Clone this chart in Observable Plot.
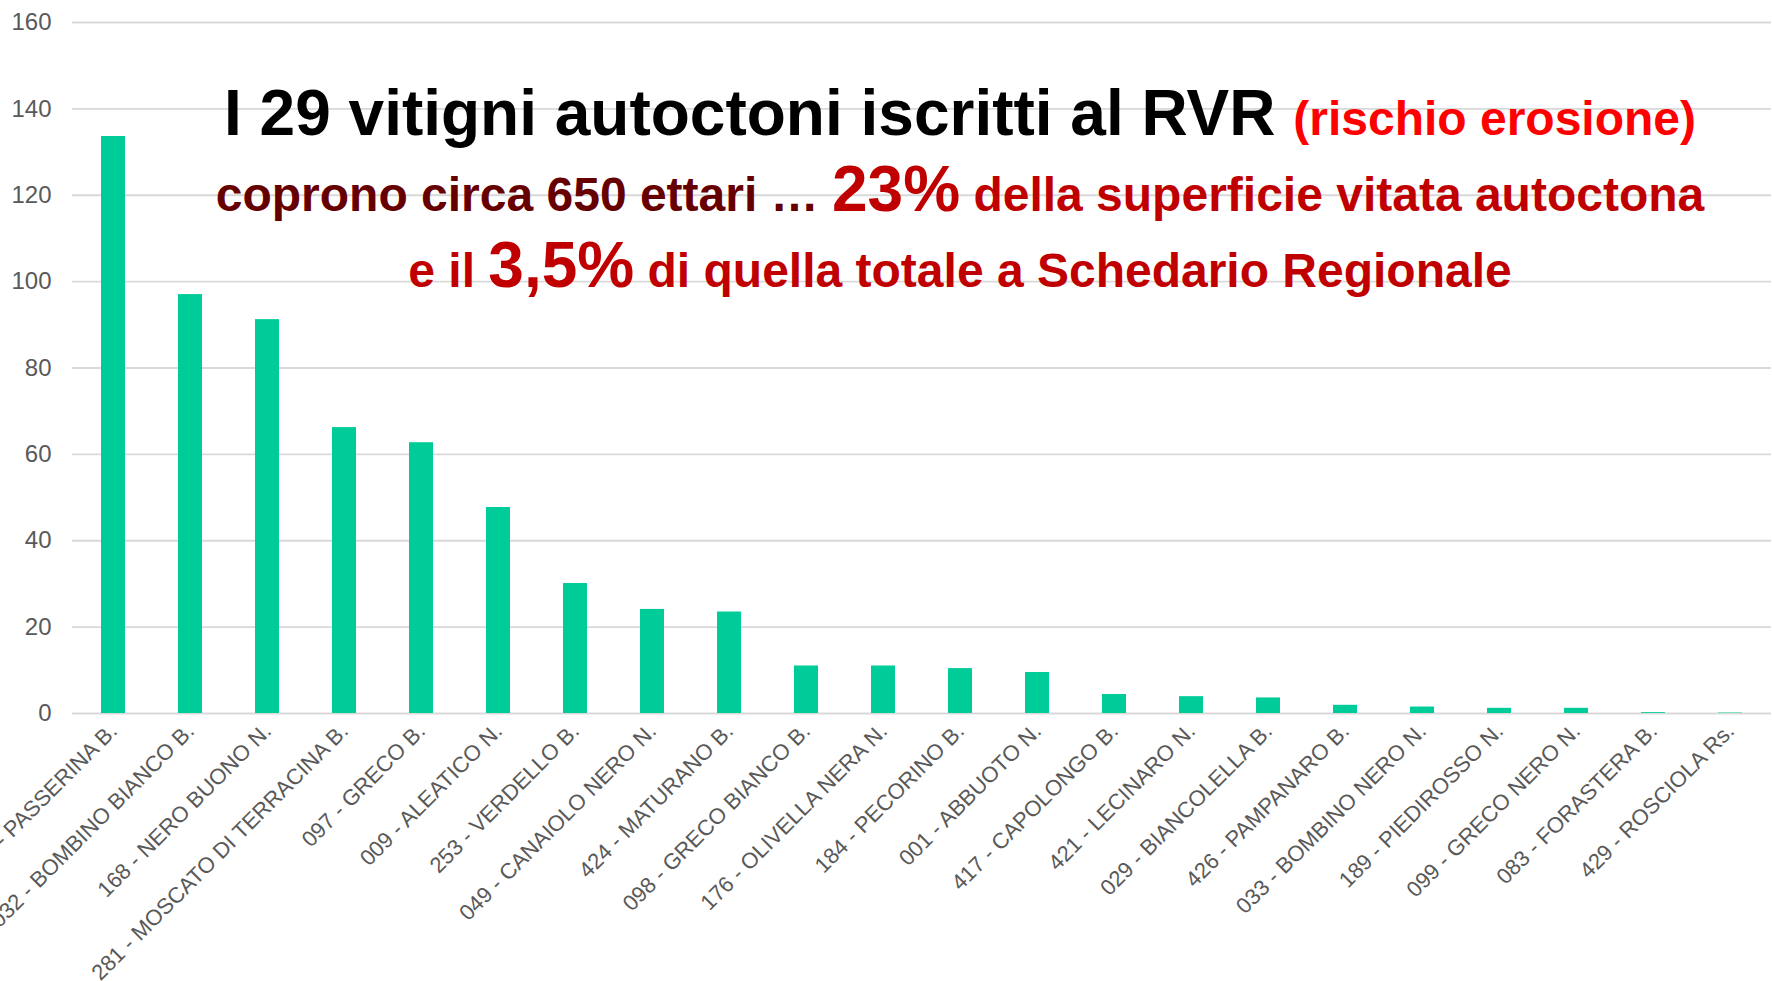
<!DOCTYPE html>
<html>
<head>
<meta charset="utf-8">
<script src="https://cdn.jsdelivr.net/npm/d3@7"></script>
<script src="https://cdn.jsdelivr.net/npm/@observablehq/plot@0.6"></script>
<style>
  html, body { margin: 0; padding: 0; background: #fff; overflow: hidden; }
  #chart { position: relative; width: 1772px; height: 981px; }
</style>
</head>
<body>
<div id="chart"></div>
<script>
const varieties = [
  "183 - PASSERINA B.",
  "032 - BOMBINO BIANCO B.",
  "168 - NERO BUONO N.",
  "281 - MOSCATO DI TERRACINA B.",
  "097 - GRECO B.",
  "009 - ALEATICO N.",
  "253 - VERDELLO B.",
  "049 - CANAIOLO NERO N.",
  "424 - MATURANO B.",
  "098 - GRECO BIANCO B.",
  "176 - OLIVELLA NERA N.",
  "184 - PECORINO B.",
  "001 - ABBUOTO N.",
  "417 - CAPOLONGO B.",
  "421 - LECINARO N.",
  "029 - BIANCOLELLA B.",
  "426 - PAMPANARO B.",
  "033 - BOMBINO NERO N.",
  "189 - PIEDIROSSO N.",
  "099 - GRECO NERO N.",
  "083 - FORASTERA B.",
  "429 - ROSCIOLA Rs."
];
const hectares = [133.6, 97.0, 91.2, 66.2, 62.7, 47.7, 30.1, 24.1, 23.5, 11.0, 11.0, 10.4, 9.5, 4.4, 3.9, 3.6, 1.9, 1.5, 1.2, 1.2, 0.2, 0.1];
const yTicks = [0, 20, 40, 60, 80, 100, 120, 140, 160];

const data = varieties.map((v, i) => ({variety: v, value: hectares[i]}));

const plot = Plot.plot({
  width: 1772,
  height: 981,
  marginTop: 22,
  marginBottom: 268,
  marginLeft: 72,
  marginRight: 1,
  style: {fontFamily: "'Liberation Sans', Arial, sans-serif", background: "#fff", overflow: "visible"},
  x: {domain: varieties, padding: 0.69, paddingOuter: 0.345, label: null},
  y: {domain: [0, 160], ticks: yTicks, label: null},
  marks: [
    Plot.ruleY(yTicks, {stroke: "#D9D9D9", strokeWidth: 1.8}),
    Plot.barY(data, {x: "variety", y: "value", fill: "#00CC99"}),
    Plot.axisY({ticks: yTicks, tickSize: 0, tickPadding: 21, fontSize: 24, color: "#595959", label: null}),
    Plot.axisX({tickSize: 0, tickPadding: 14, tickRotate: -45, fontSize: 22, color: "#595959", label: null})
  ]
});
document.getElementById("chart").appendChild(plot);

const svg = d3.select(plot);
const font = "'Liberation Sans', Arial, sans-serif";
const lines = [
  {y: 135, parts: [
    {t: "I 29 vitigni autoctoni iscritti al RVR ", s: 64, c: "#000000"},
    {t: "(rischio erosione)", s: 48, c: "#FF0000"}
  ]},
  {y: 211, parts: [
    {t: "coprono circa 650 ettari … ", s: 48, c: "#660000"},
    {t: "23%", s: 64, c: "#C00000"},
    {t: " della superficie vitata autoctona", s: 48, c: "#C00000"}
  ]},
  {y: 287, parts: [
    {t: "e il ", s: 48, c: "#C00000"},
    {t: "3,5%", s: 64, c: "#C00000"},
    {t: " di quella totale a Schedario Regionale", s: 48, c: "#C00000"}
  ]}
];
for (const line of lines) {
  const t = svg.append("text")
    .attr("x", 960).attr("y", line.y)
    .attr("text-anchor", "middle")
    .attr("font-family", font)
    .attr("font-weight", "bold")
    .style("white-space", "pre");
  for (const p of line.parts) {
    t.append("tspan").attr("font-size", p.s).attr("fill", p.c).text(p.t);
  }
}
</script>
</body>
</html>
